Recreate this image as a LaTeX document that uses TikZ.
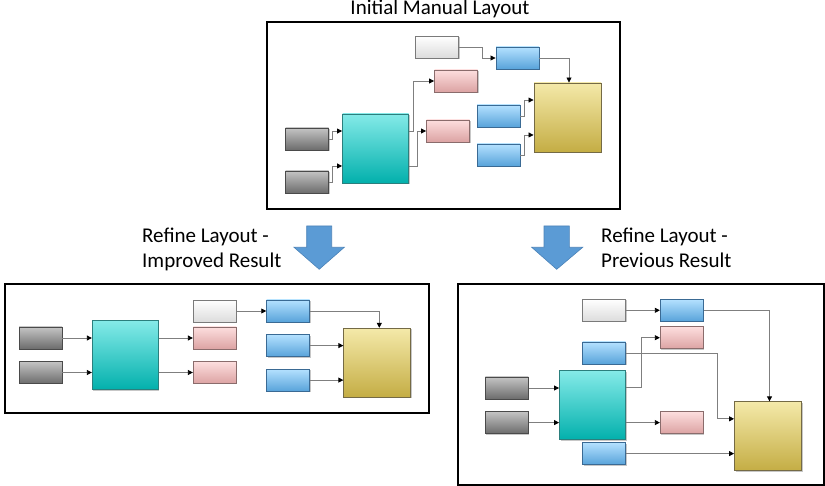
\documentclass[tikz,border=0pt]{standalone}
\usepackage{fontspec}
\setmainfont{Carlito}
\usetikzlibrary{arrows.meta,calc,shadows}
\definecolor{grayT}{HTML}{C4C4C4}
\definecolor{grayM}{HTML}{A6A6A6}
\definecolor{grayB}{HTML}{6C6C6C}
\definecolor{grayD}{HTML}{4A4A4A}
\definecolor{cyanT}{HTML}{84EAE8}
\definecolor{cyanM}{HTML}{5AD9D6}
\definecolor{cyanB}{HTML}{02B0AC}
\definecolor{cyanD}{HTML}{2B7F7D}
\definecolor{whiteT}{HTML}{FFFFFF}
\definecolor{whiteB}{HTML}{DCDCDC}
\definecolor{whiteD}{HTML}{7A7A7A}
\definecolor{blueT}{HTML}{B4E1FF}
\definecolor{blueM}{HTML}{98CDF5}
\definecolor{blueB}{HTML}{58A3DA}
\definecolor{blueD}{HTML}{3A6A94}
\definecolor{pinkT}{HTML}{FDDEDE}
\definecolor{pinkM}{HTML}{F3C8C8}
\definecolor{pinkB}{HTML}{DCA3A3}
\definecolor{pinkD}{HTML}{8A6C6C}
\definecolor{goldT}{HTML}{F4E9A9}
\definecolor{goldM}{HTML}{E4D488}
\definecolor{goldB}{HTML}{C4AD44}
\definecolor{goldD}{HTML}{746A45}
\definecolor{lineC}{HTML}{7F7F7F}
\definecolor{arrowF}{HTML}{5B9BD5}
\definecolor{arrowD}{HTML}{4A82B8}
\begin{document}
\begin{tikzpicture}[x=1pt,y=-1pt,
  blk/.style={rectangle, line width=0.9pt, inner sep=0pt, minimum width=43pt, minimum height=22pt,
    drop shadow={shadow xshift=1pt, shadow yshift=-1pt, fill=black, opacity=0.22}},
  gblk/.style={blk, draw=grayD, top color=grayT, middle color=grayM, bottom color=grayB},
  wblk/.style={blk, draw=whiteD, top color=whiteT, bottom color=whiteB},
  bblk/.style={blk, draw=blueD, top color=blueT, middle color=blueM, bottom color=blueB},
  pblk/.style={blk, draw=pinkD, top color=pinkT, middle color=pinkM, bottom color=pinkB},
  cblk/.style={blk, draw=cyanD, top color=cyanT, middle color=cyanM, bottom color=cyanB, minimum width=66pt, minimum height=69pt},
  yblk/.style={blk, draw=goldD, top color=goldT, middle color=goldM, bottom color=goldB, minimum width=67pt, minimum height=69pt},
  conn/.style={draw=lineC, line width=0.8pt, -{Triangle[length=5pt,width=5pt,color=black]}},
  panel/.style={rectangle, draw=black, line width=1.2pt, inner sep=0pt},
  lbl/.style={font=\fontsize{21}{25}\selectfont, anchor=base west, inner sep=0pt},
  bigarrow/.style={fill=arrowF, draw=arrowD, line width=0.6pt}
]
\useasboundingbox (0,0) rectangle (825,486);

% ---------- panels ----------
\node[panel, minimum width=353pt, minimum height=187pt] (Tframe) at (443.5,115.5) {};
\node[panel, minimum width=424pt, minimum height=129pt] (Lframe) at (217,348.5) {};
\node[panel, minimum width=366pt, minimum height=201pt] (Rframe) at (641,384.5) {};

% ---------- texts ----------
\node[lbl, anchor=base] (t0) at (440,15) {Initial Manual Layout};
\node[lbl] (t1a) at (142,243) {Refine Layout -};
\node[lbl] (t1b) at (142,268) {Improved Result};
\node[lbl] (t2a) at (601,243) {Refine Layout -};
\node[lbl] (t2b) at (601,268) {Previous Result};

% ---------- big arrows ----------
\draw[bigarrow] (306.7,226) -- (331.7,226) -- (331.7,247.3) -- (344.3,247.3) -- (319.2,269.3) -- (294,247.3) -- (306.7,247.3) -- cycle;
\draw[bigarrow] (544,226) -- (569.3,226) -- (569.3,247.3) -- (582.7,247.3) -- (556.7,269.3) -- (531.7,247.3) -- (544,247.3) -- cycle;

% ---------- top panel ----------
\node[gblk] (Tg1) at (307,139) {};
\node[gblk] (Tg2) at (307,182) {};
\node[cblk] (Tc) at (375.5,148.5) {};
\node[wblk] (Tw) at (437,47) {};
\node[bblk] (Tb1) at (517.5,58) {};
\node[pblk] (Tp1) at (456,81) {};
\node[pblk] (Tp2) at (448,131) {};
\node[bblk] (Tb2) at (498.5,116) {};
\node[bblk] (Tb3) at (498.5,155) {};
\node[yblk] (Ty) at (567.5,117.5) {};

\draw[conn] (Tg1.east) -- ++(3,0) |- ($(Tc.north west)!.25!(Tc.south west)$);
\draw[conn] (Tg2.east) -- ++(3,0) |- ($(Tc.north west)!.75!(Tc.south west)$);
\draw[conn] ($(Tc.north east)!.25!(Tc.south east)$) -- ++(4,0) |- (Tp1.west);
\draw[conn] ($(Tc.north east)!.75!(Tc.south east)$) -- ++(8,0) |- (Tp2.west);
\draw[conn] (Tw.east) -- ++(23,0) |- (Tb1.west);
\draw[conn] (Tb1.east) -| ($(Ty.north)+(1.5,0)$);
\draw[conn] (Tb2.east) -- ++(4,0) |- ($(Ty.north west)!.25!(Ty.south west)$);
\draw[conn] (Tb3.east) -- ++(4,0) |- ($(Ty.north west)!.75!(Ty.south west)$);

% ---------- bottom-left panel ----------
\node[gblk] (Lg1) at (40.5,338) {};
\node[gblk] (Lg2) at (40.5,372.5) {};
\node[cblk] (Lc) at (125.3,355.2) {};
\node[wblk] (Lw) at (214.8,311) {};
\node[pblk] (Lp1) at (214.8,338) {};
\node[pblk] (Lp2) at (214.8,372.5) {};
\node[bblk] (Lb1) at (288.2,311) {};
\node[bblk] (Lb2) at (288.2,345.6) {};
\node[bblk] (Lb3) at (288.2,380.1) {};
\node[yblk] (Ly) at (377.3,362.8) {};

\draw[conn] (Lg1.east) -- (Lg1.east -| Lc.west);
\draw[conn] (Lg2.east) -- (Lg2.east -| Lc.west);
\draw[conn] (Lp1.west -| Lc.east) -- (Lp1.west);
\draw[conn] (Lp2.west -| Lc.east) -- (Lp2.west);
\draw[conn] (Lw.east) -- (Lb1.west);
\draw[conn] (Lb1.east) -| ($(Ly.north)+(2,0)$);
\draw[conn] (Lb2.east) -- (Lb2.east -| Ly.west);
\draw[conn] (Lb3.east) -- (Lb3.east -| Ly.west);

% ---------- bottom-right panel ----------
\node[wblk] (Rw) at (604.2,310.3) {};
\node[bblk] (Rb1) at (681.8,310.3) {};
\node[pblk] (Rp1) at (681.8,337.7) {};
\node[bblk] (Rb2) at (604.2,353) {};
\node[gblk] (Rg1) at (506.8,388) {};
\node[gblk] (Rg2) at (506.8,422.6) {};
\node[cblk] (Rc) at (592.5,405.3) {};
\node[pblk] (Rp2) at (681.8,422.6) {};
\node[bblk] (Rb3) at (604.2,453.6) {};
\node[yblk] (Ry) at (768,436.3) {};

\draw[conn] (Rw.east) -- (Rb1.west);
\draw[conn] (Rb1.east) -| ($(Ry.north)+(1.5,0)$);
\draw[conn] ($(Rc.north east)!.25!(Rc.south east)$) -- ++(15,0) |- (Rp1.west);
\draw[conn] (Rb2.east) -- ++(91.5,0) |- ($(Ry.north west)!.25!(Ry.south west)$);
\draw[conn] (Rg1.east) -- (Rg1.east -| Rc.west);
\draw[conn] (Rg2.east) -- (Rg2.east -| Rc.west);
\draw[conn] (Rp2.west -| Rc.east) -- (Rp2.west);
\draw[conn] (Rb3.east) -- (Rb3.east -| Ry.west);
\end{tikzpicture}
\end{document}
